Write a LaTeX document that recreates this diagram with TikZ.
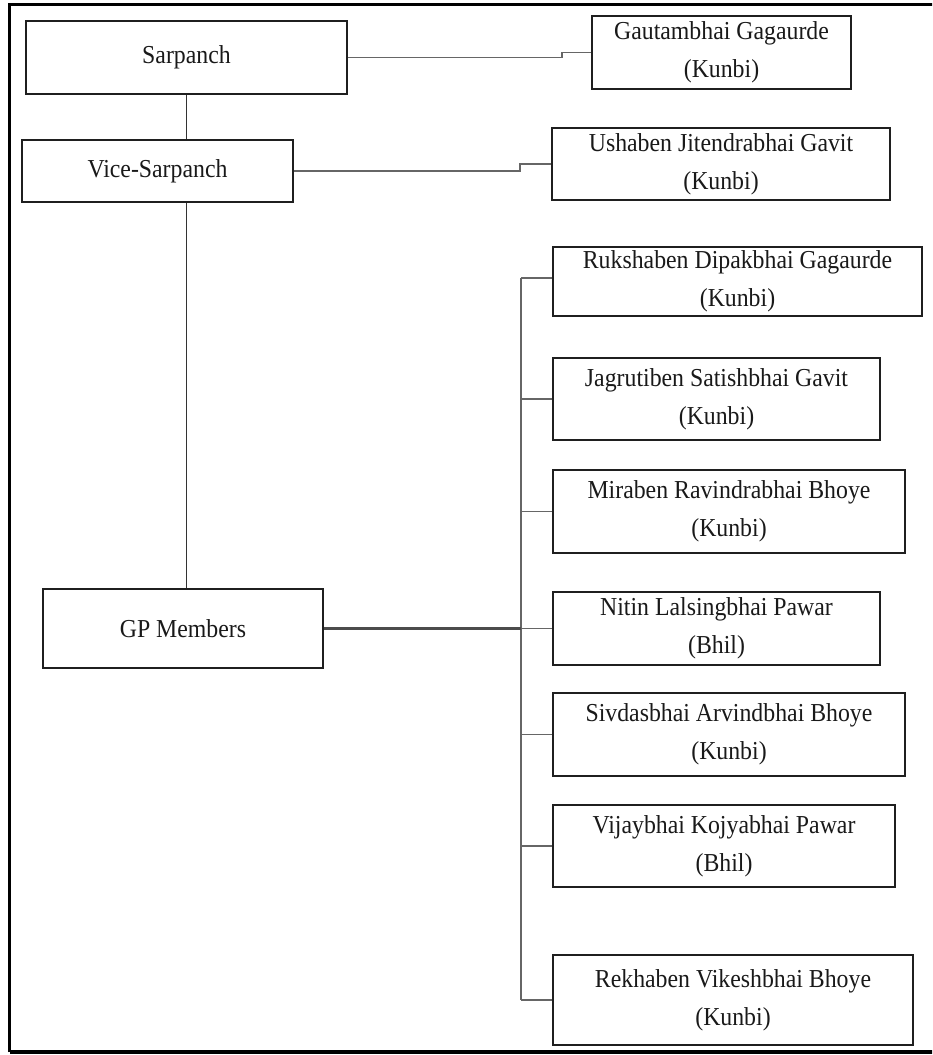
\documentclass[tikz,border=0pt]{standalone}
\usepackage{fontspec}
\setmainfont{Liberation Serif}
\newfontfamily\boxfont{Liberation Serif}[FakeStretch=0.92]
\begin{document}
\begin{tikzpicture}[x=0.75pt,y=-0.75pt,
  box/.style={draw=black!88,line width=1.4pt,rectangle,inner sep=0pt,align=center,
    font=\boxfont\fontsize{19.4}{28.5}\selectfont,text=black!90},
  link/.style={draw=black!60,line width=1.1pt},
  mainlink/.style={draw=black!70,line width=1.8pt}]
\useasboundingbox (0,0) rectangle (932,1055);
\clip (0,0) rectangle (932,1055);
% outer frame (runs off the right edge)
\draw[line width=2.8pt,black] (9.5,1052) -- (9.5,4.5) -- (960,4.5);
\draw[line width=2.8pt,black] (9.5,1052) -- (960,1052);

% office holders
\node[box,minimum width=240.75pt,minimum height=54.75pt] (sar) at (186.5,57.5) {Sarpanch};
\node[box,minimum width=203.25pt,minimum height=46.5pt] (vice) at (157.5,171) {Vice-Sarpanch};
\node[box,minimum width=210pt,minimum height=59.25pt] (gp) at (183,628.5) {GP Members};

\node[box,minimum width=194.25pt,minimum height=54.75pt] (gaut) at (721.5,52.5) {Gautambhai Gagaurde\\(Kunbi)};
\node[box,minimum width=253.5pt,minimum height=54pt] (usha) at (721,164) {Ushaben Jitendrabhai Gavit\\(Kunbi)};

% members
\node[box,minimum width=276.75pt,minimum height=51.75pt] (ruk) at (737.5,281.5) {Rukshaben Dipakbhai Gagaurde\\(Kunbi)};
\node[box,minimum width=245.25pt,minimum height=61.5pt] (jag) at (716.5,399) {Jagrutiben Satishbhai Gavit\\(Kunbi)};
\node[box,minimum width=264pt,minimum height=62.25pt] (mir) at (729,511.5) {Miraben Ravindrabhai Bhoye\\(Kunbi)};
\node[box,minimum width=245.25pt,minimum height=54.75pt] (nit) at (716.5,628.5) {Nitin Lalsingbhai Pawar\\(Bhil)};
\node[box,minimum width=264pt,minimum height=62.25pt] (siv) at (729,734.5) {Sivdasbhai Arvindbhai Bhoye\\(Kunbi)};
\node[box,minimum width=256.5pt,minimum height=61.5pt] (vij) at (724,846) {Vijaybhai Kojyabhai Pawar\\(Bhil)};
\node[box,minimum width=270pt,minimum height=67.5pt] (rek) at (733,1000) {Rekhaben Vikeshbhai Bhoye\\(Kunbi)};

% routing points
\coordinate (jogA) at (562,0);
\coordinate (jogB) at (520,0);
\coordinate (trunk) at (521,0);

% hierarchy line
\draw[draw=black!80,line width=1.3pt] (sar.south) -- (sar.south |- vice.north);
\draw[draw=black!80,line width=1.3pt] (sar.south |- vice.south) -- (sar.south |- gp.north);

% names beside the offices
\draw[link] (sar.east) -- (jogA |- sar.east) -- (jogA |- gaut.west) -- (gaut.west);
\draw[link] (vice.east) -- (jogB |- vice.east) -- (jogB |- usha.west) -- (usha.west);

% members bracket
\draw[link] (trunk |- 0,278) -- (trunk |- rek.west);
\draw[link] (trunk |- 0,278) -- (ruk.west |- 0,278);
\foreach \m in {jag,mir,siv,vij,rek}
  \draw[link] (trunk |- \m.west) -- (\m.west);
\draw[mainlink] (gp.east) -- (trunk |- gp.east);
\draw[link] (trunk |- gp.east) -- (nit.west);
\end{tikzpicture}
\end{document}
